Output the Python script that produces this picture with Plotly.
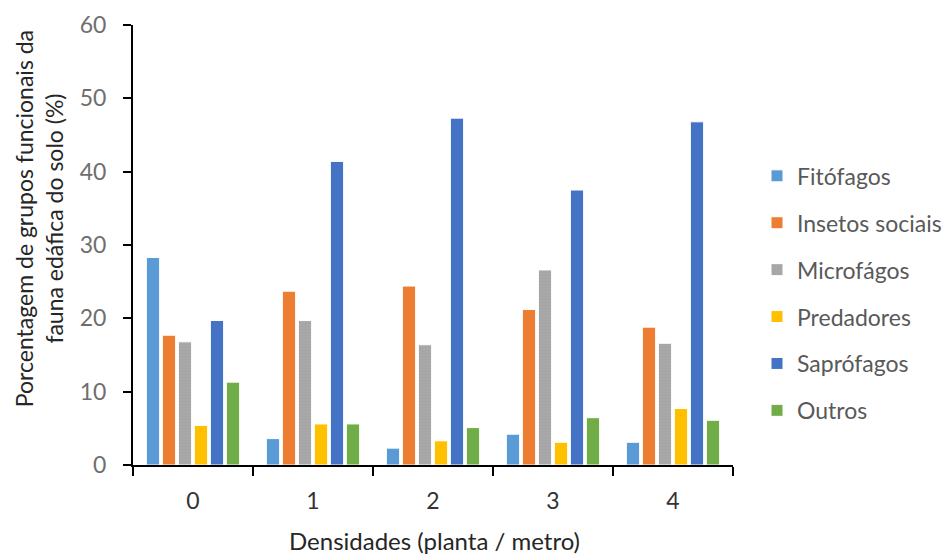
import plotly.graph_objects as go

categories = ["0", "1", "2", "3", "4"]
series_names = ["Fitófagos", "Insetos sociais", "Microfágos", "Predadores", "Saprófagos", "Outros"]
fitofagos = [28.3, 3.6, 2.3, 4.2, 3.1]
insetos_sociais = [17.7, 23.7, 24.4, 21.2, 18.8]
microfagos = [16.8, 19.7, 16.4, 26.6, 16.6]
predadores = [5.4, 5.6, 3.3, 3.1, 7.7]
saprofagos = [19.7, 41.4, 47.3, 37.5, 46.8]
outros = [11.3, 5.6, 5.1, 6.45, 6.1]
colors = ["#5B9BD5", "#ED7D31", "#A5A5A5", "#FFC000", "#4472C4", "#70AD47"]
y_ticks = [0, 10, 20, 30, 40, 50, 60]

values = [fitofagos, insetos_sociais, microfagos, predadores, saprofagos, outros]
FONT = "Lato, Carlito, Liberation Sans, sans-serif"

fig = go.Figure()
for name, vals, col in zip(series_names, values, colors):
    marker = dict(color=col, line=dict(color="white", width=1))
    if name == "Microfágos":
        marker["pattern"] = dict(shape=".", fgcolor="#999999", bgcolor="#AAAAAA", size=3, solidity=0.4)
    fig.add_trace(go.Bar(x=categories, y=vals, name=name, marker=marker, legendgroup=name))

fig.update_layout(
    width=944, height=556,
    margin=dict(l=133, r=211, t=25, b=91, autoexpand=False),
    paper_bgcolor="white", plot_bgcolor="white",
    barmode="group", bargap=0.2, bargroupgap=0.17,
    font=dict(family=FONT, size=23, color="#595959"),
    showlegend=True,
    legend=dict(x=1.04, xanchor="left", y=0.39, yanchor="middle",
                font=dict(family=FONT, size=23, color="#595959"),
                tracegroupgap=14, bgcolor="rgba(0,0,0,0)"),
    xaxis=dict(type="category", showline=True, linecolor="black", linewidth=2,
               ticks="outside", tickson="boundaries", ticklen=9, tickwidth=2, tickcolor="black",
               tickfont=dict(family=FONT, size=23, color="#333333"),
               ticklabelstandoff=14,
               showgrid=False, zeroline=False),
    yaxis=dict(range=[0, 60], tickvals=y_ticks, showline=True, linecolor="black", linewidth=2,
               ticks="outside", ticklen=8, tickwidth=2, tickcolor="black",
               tickfont=dict(family=FONT, size=23, color="#6E6E6E"),
               ticklabelstandoff=12,
               showgrid=False, zeroline=False),
    annotations=[
        dict(text="Porcentagem de grupos funcionais da<br>fauna edáfica do solo (%)",
             xref="paper", yref="paper", x=-0.1567, y=0.561, xanchor="center", yanchor="middle",
             textangle=-90, showarrow=False, font=dict(family=FONT, size=23, color="#262626")),
        dict(text="Densidades (planta / metro)",
             xref="paper", yref="paper", x=0.5025, y=-0.172, xanchor="center", yanchor="middle",
             showarrow=False, font=dict(family=FONT, size=24, color="#262626")),
    ],
)

fig.write_html("out.html")
